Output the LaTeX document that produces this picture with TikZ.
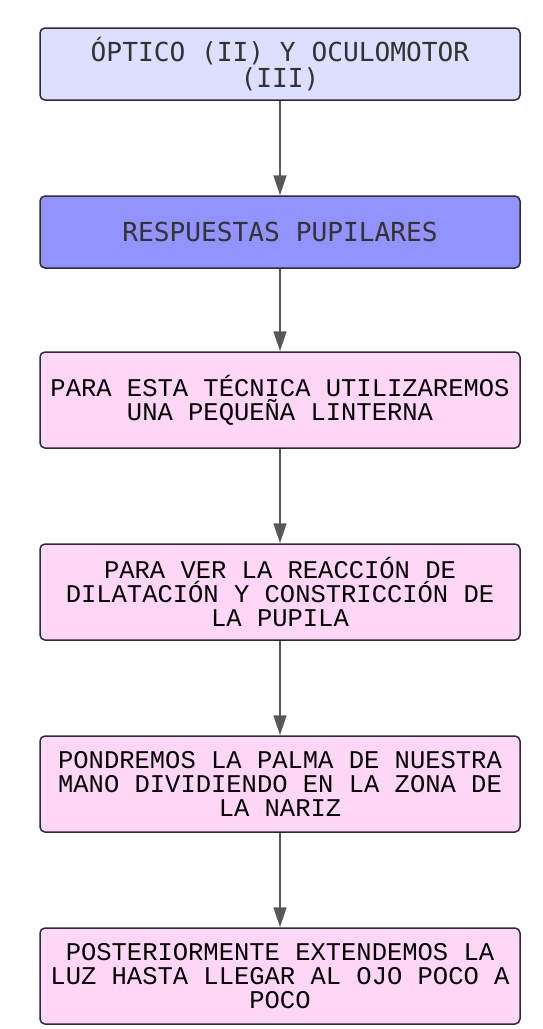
\documentclass[tikz,border=0pt]{standalone}
\usepackage{fontspec}
\newfontfamily\lmono{Liberation Mono}
\newfontfamily\dvmono{DejaVu Sans Mono}
\usetikzlibrary{arrows.meta}
\definecolor{lav}{HTML}{DDDFFF}
\definecolor{blu}{HTML}{9393FF}
\definecolor{pnk}{HTML}{FFD6F6}
\definecolor{bord}{HTML}{2B2B3B}
\definecolor{arr}{HTML}{595959}
\definecolor{txtg}{HTML}{333333}
\begin{document}
\begin{tikzpicture}[x=1pt,y=-1pt,
  box/.style={draw=bord,line width=1.5pt,rounded corners=5pt,minimum width=480pt,align=center,inner sep=0pt},
  topbox/.style={box,minimum height=72pt,font=\dvmono\fontsize{26.2}{26}\selectfont,text=txtg},
  pbox/.style={box,fill=pnk,minimum height=96pt,font=\lmono\fontsize{25.5}{24}\selectfont,text=black},
  conn/.style={draw=arr,line width=1.5pt,-{Triangle[length=20pt,width=13pt]}}]
\useasboundingbox (0,0) rectangle (543,1029);
\node[topbox,fill=lav] (a) at (280,64) {ÓPTICO (II) Y OCULOMOTOR\\(III)};
\node[topbox,fill=blu] (b) at (280,232) {RESPUESTAS PUPILARES};
\node[pbox] (c) at (280,400) {PARA ESTA TÉCNICA UTILIZAREMOS\\UNA PEQUEÑA LINTERNA};
\node[pbox] (d) at (280,592) {PARA VER LA REACCIÓN DE\\DILATACIÓN Y CONSTRICCIÓN DE\\LA PUPILA};
\node[pbox] (e) at (280,784) {PONDREMOS LA PALMA DE NUESTRA\\MANO DIVIDIENDO EN LA ZONA DE\\LA NARIZ};
\node[pbox] (f) at (280,976) {POSTERIORMENTE EXTENDEMOS LA\\LUZ HASTA LLEGAR AL OJO POCO A\\POCO};
\draw[conn] (a) -- (b);
\draw[conn] (b) -- (c);
\draw[conn] (c) -- (d);
\draw[conn] (d) -- (e);
\draw[conn] (e) -- (f);
\end{tikzpicture}
\end{document}
